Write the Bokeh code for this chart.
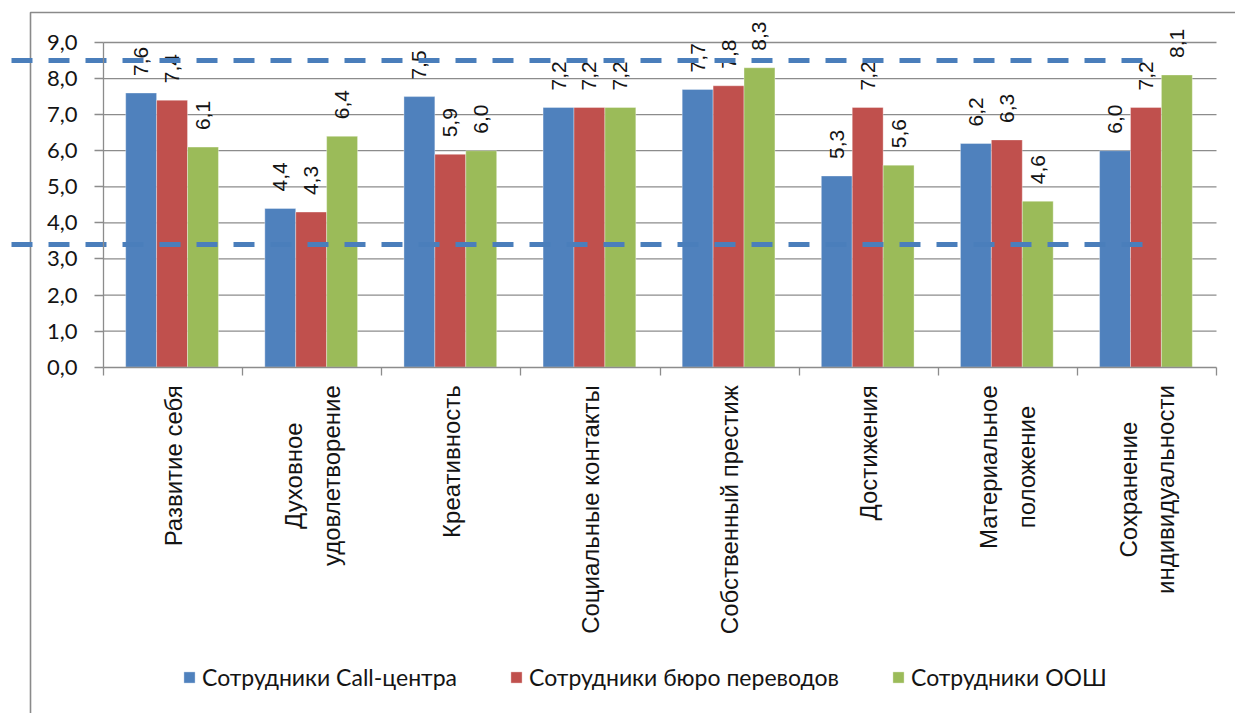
from math import pi

from bokeh.core.properties import value
from bokeh.embed import file_html
from bokeh.models import (ColumnDataSource, CustomJSTickFormatter, FixedTicker,
                          Legend, LegendItem, LinearAxis, Range1d)
from bokeh.plotting import figure
from bokeh.resources import INLINE

# ---- data -------------------------------------------------------------
categories = [
    "Развитие себя",
    "Духовное\nудовлетворение",
    "Креативность",
    "Социальные контакты",
    "Собственный престиж",
    "Достижения",
    "Материальное\nположение",
    "Сохранение\nиндивидуальности",
]
series_names = [
    "Сотрудники Call-центра",
    "Сотрудники бюро переводов",
    "Сотрудники ООШ",
]
call_center = [7.6, 4.4, 7.5, 7.2, 7.7, 5.3, 6.2, 6.0]
translation_bureau = [7.4, 4.3, 5.9, 7.2, 7.8, 7.2, 6.3, 7.2]
school_staff = [6.1, 6.4, 6.0, 7.2, 8.3, 5.6, 4.6, 8.1]
y_ticks = [0, 1, 2, 3, 4, 5, 6, 7, 8, 9]
threshold_levels = [8.5, 3.4]

# ---- styling / layout ---------------------------------------------------
colors = ["#4F81BD", "#C0504D", "#9BBB59"]
GRID = "#8c8c8c"
TEXT = "#141414"
W, H = 1235, 713
AX_X = 103.0        # pixel column of the value axis
SLOT = 139.125      # pixels per category
BASE_Y = 366.7      # pixel row of value 0
UNIT = 36.08        # pixels per value unit
BAR_W = 1 / 4.5     # Excel-like 150 % gap width
GROUP_SHIFT = -1.0 / SLOT


def px_x(px):
    return (px - AX_X) / SLOT


def px_y(py):
    return (BASE_Y - py) / UNIT


p = figure(
    width=W, height=H,
    x_range=Range1d(px_x(0), px_x(W)),
    y_range=Range1d(px_y(H), px_y(0)),
    x_axis_location=None, y_axis_location=None,
    output_backend="svg", toolbar_location=None,
    min_border=0, outline_line_color=None,
    background_fill_color="white", border_fill_color="white",
)
p.grid.visible = False

# chart-area border (left and top edges)
p.line(x=[px_x(30), px_x(30), px_x(W + 10)],
       y=[px_y(H + 10), px_y(12), px_y(12)],
       line_color="#8a8a8a", line_width=1.6)

n = len(categories)

# horizontal gridlines
p.segment(x0=[0] * (len(y_ticks) - 1), x1=[n] * (len(y_ticks) - 1),
          y0=y_ticks[1:], y1=y_ticks[1:], line_color=GRID, line_width=1.3)

# value axis
yaxis = LinearAxis(
    fixed_location=0, bounds=(0, max(y_ticks)),
    ticker=FixedTicker(ticks=y_ticks, minor_ticks=[]),
    formatter=CustomJSTickFormatter(code="return tick.toFixed(1).replace('.', ',')"),
    major_tick_out=9, major_tick_in=0, minor_tick_out=0, minor_tick_in=0,
    axis_line_color=GRID, axis_line_width=1.3,
    major_tick_line_color=GRID, major_tick_line_width=1.3,
    major_label_text_font="Lato", major_label_text_font_size="22px",
    major_label_text_color=TEXT, major_label_standoff=17,
)
p.add_layout(yaxis, "left")

# category axis (boundary ticks only; names drawn below)
xaxis = LinearAxis(
    fixed_location=0, bounds=(0, n),
    ticker=FixedTicker(ticks=list(range(n + 1)), minor_ticks=[]),
    formatter=CustomJSTickFormatter(code="return ''"),
    major_tick_out=8, major_tick_in=0, minor_tick_out=0, minor_tick_in=0,
    axis_line_color=GRID, axis_line_width=1.3,
    major_tick_line_color=GRID, major_tick_line_width=1.3,
)
p.add_layout(xaxis, "below")

# bars and value labels
series = [call_center, translation_bureau, school_staff]
offsets = [-BAR_W, 0.0, BAR_W]
items = []
for vals, name, col, off in zip(series, series_names, colors, offsets):
    src = ColumnDataSource(dict(
        x=[i + 0.5 + off + GROUP_SHIFT for i in range(n)],
        top=vals,
        label=[f"{v:.1f}".replace(".", ",") for v in vals],
    ))
    r = p.vbar(x="x", top="top", width=BAR_W, source=src,
               fill_color=col, line_color="white", line_alpha=0.35, line_width=1)
    items.append(LegendItem(label=name, renderers=[r]))
    p.text(x="x", y="top", text="label", source=src, angle=pi / 2,
           text_align="left", text_baseline="middle", y_offset=-17,
           text_font=value("Liberation Sans"), text_font_size="21px",
           text_color=TEXT)

# category names, rotated
p.text(x=[i + 0.5 for i in range(n)], y=[0] * n, text=categories,
       angle=pi / 2, anchor="center_right", text_align="center",
       text_baseline="middle", y_offset=18, text_line_height=1.4,
       text_font=value("Liberation Sans"), text_font_size="24px",
       text_color=TEXT)

# threshold bands
p.segment(x0=[px_x(11)] * len(threshold_levels), x1=[px_x(1152)] * len(threshold_levels),
          y0=threshold_levels, y1=threshold_levels,
          line_color="#4A7EBB", line_width=5, line_dash="21 16")

legend = Legend(
    items=items, orientation="horizontal", location=(182, 22),
    glyph_width=14, glyph_height=14, label_standoff=6, spacing=52,
    padding=0, margin=0, border_line_color=None, background_fill_alpha=0,
    label_text_font="Lato", label_text_font_size="23px", label_text_color=TEXT,
)
p.add_layout(legend, "center")

open("out.html", "w").write(file_html(p, INLINE))
